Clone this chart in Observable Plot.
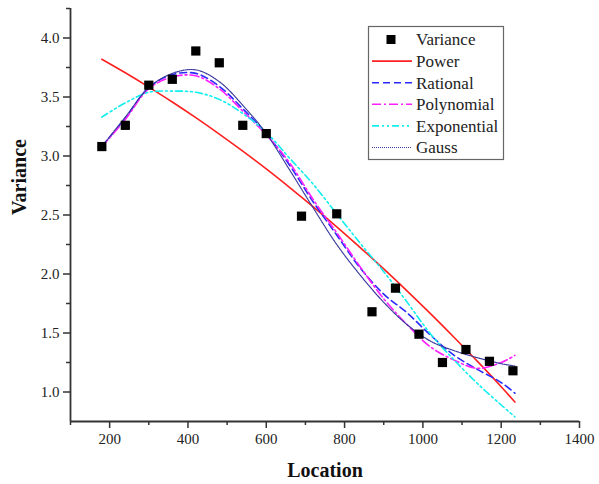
<!DOCTYPE html>
<html>
<head>
<meta charset="utf-8">
<script src="https://cdn.jsdelivr.net/npm/d3@7"></script>
<script src="https://cdn.jsdelivr.net/npm/@observablehq/plot@0.6"></script>
<style>
  html, body { margin: 0; padding: 0; background: #fff; }
  #chart svg { display: block; }
</style>
</head>
<body>
<div id="chart"></div>
<script>
// ---- Data ----
const locations = [180, 240, 300, 360, 420, 480, 540, 600, 690, 780, 870, 930, 990, 1050, 1110, 1170, 1230];
const variance  = [3.08, 3.26, 3.60, 3.65, 3.89, 3.79, 3.26, 3.19, 2.49, 2.51, 1.68, 1.88, 1.49, 1.25, 1.36, 1.26, 1.18];

const fitX = [180, 240, 300, 360, 420, 480, 540, 600, 660, 720, 780, 840, 900, 960, 1020, 1080, 1140, 1200, 1235];
const powerFit       = [3.82, 3.705, 3.584, 3.458, 3.325, 3.186, 3.041, 2.890, 2.732, 2.569, 2.400, 2.224, 2.043, 1.855, 1.662, 1.462, 1.257, 1.045, 0.915];
const rationalFit    = [3.08, 3.32, 3.58, 3.69, 3.70, 3.59, 3.40, 3.19, 2.92, 2.61, 2.33, 2.05, 1.83, 1.67, 1.48, 1.31, 1.19, 1.08, 0.99];
const polynomialFit  = [3.08, 3.31, 3.57, 3.67, 3.68, 3.57, 3.38, 3.18, 2.94, 2.63, 2.35, 2.06, 1.79, 1.57, 1.38, 1.27, 1.20, 1.25, 1.31];
const exponentialFit = [3.33, 3.45, 3.54, 3.55, 3.54, 3.48, 3.36, 3.20, 2.98, 2.76, 2.51, 2.26, 2.02, 1.76, 1.49, 1.27, 1.07, 0.89, 0.79];
const gaussFit       = [3.08, 3.33, 3.58, 3.70, 3.73, 3.63, 3.43, 3.19, 2.88, 2.56, 2.25, 1.99, 1.76, 1.57, 1.43, 1.35, 1.29, 1.24, 1.22];

const seriesNames = ["Power", "Rational", "Polynomial", "Exponential", "Gauss"];
const seriesValues = [powerFit, rationalFit, polynomialFit, exponentialFit, gaussFit];

const xMajorTicks = [200, 400, 600, 800, 1000, 1200, 1400];
const xMinorTicks = [100, 300, 500, 700, 900, 1100, 1300];
const yMajorTicks = [1.0, 1.5, 2.0, 2.5, 3.0, 3.5, 4.0];
const yMinorTicks = [1.25, 1.75, 2.25, 2.75, 3.25, 3.75, 4.25];
const xDomain = [100, 1400];
const yDomain = [0.75, 4.25];

// ---- Styles ----
const styles = {
  Power:       {stroke: "#ff2020", dash: null,            width: 1.6},
  Rational:    {stroke: "#2a2aff", dash: "7,4",           width: 1.6},
  Polynomial:  {stroke: "#ff20ff", dash: "9,3,2,3",       width: 1.6},
  Exponential: {stroke: "#10eeee", dash: "7,3,2,3,2,3",   width: 1.6},
  Gauss:       {stroke: "#3a3a9e", dash: "1,1",           width: 1.2}
};
const serif = "'Liberation Serif', 'Times New Roman', serif";

const points = locations.map((x, i) => ({x, y: variance[i]}));
const fitRows = seriesNames.flatMap((name, i) => fitX.map((x, j) => ({series: name, x, y: seriesValues[i][j]})));

const lineMarks = seriesNames.map(name => Plot.line(fitRows.filter(d => d.series === name), {
  x: "x", y: "y",
  stroke: styles[name].stroke,
  strokeWidth: styles[name].width,
  strokeDasharray: styles[name].dash,
  curve: "catmull-rom"
}));

const axisColor = "#333";

const chart = Plot.plot({
  width: 599,
  height: 484,
  marginLeft: 70,
  marginRight: 20,
  marginTop: 8,
  marginBottom: 63,
  style: {fontFamily: serif, fontSize: "15px", color: "#222", background: "#fff"},
  x: {domain: xDomain},
  y: {domain: yDomain},
  marks: [
    ...lineMarks,
    Plot.dot(points, {x: "x", y: "y", symbol: "square", r: 5.2, fill: "#000", stroke: "none"}),
    Plot.axisX({ticks: xMajorTicks, tickSize: 7, tickPadding: 5, tickFormat: d => String(d), label: null, stroke: axisColor, strokeWidth: 1.5, fontSize: 15}),
    Plot.axisX({ticks: xMinorTicks, tickSize: 4, tickFormat: () => "", label: null, stroke: axisColor, strokeWidth: 1.5}),
    Plot.axisY({ticks: yMajorTicks, tickSize: 7, tickPadding: 4, tickFormat: d3.format(".1f"), label: null, stroke: axisColor, strokeWidth: 1.5, fontSize: 15}),
    Plot.axisY({ticks: yMinorTicks, tickSize: 4, tickFormat: () => "", label: null, stroke: axisColor, strokeWidth: 1.5}),
    Plot.ruleX([xDomain[0]], {stroke: axisColor, strokeWidth: 1.8}),
    Plot.ruleY([yDomain[0]], {stroke: axisColor, strokeWidth: 1.8}),
    Plot.text(["Location"], {frameAnchor: "bottom", dy: 49, lineAnchor: "middle", fontWeight: "bold", fontSize: 20, fill: "#111", fontFamily: serif}),
    Plot.text(["Variance"], {frameAnchor: "left", dx: -51, rotate: -90, lineAnchor: "middle", fontWeight: "bold", fontSize: 20, fill: "#111", fontFamily: serif})
  ]
});

document.getElementById("chart").appendChild(chart);

// ---- Legend (inside the plot, top right) ----
const svg = d3.select(chart);
const legend = svg.append("g")
  .attr("font-family", serif)
  .attr("font-size", 17)
  .attr("text-anchor", "start");
legend.append("rect")
  .attr("x", 368.5).attr("y", 26.5).attr("width", 135).attr("height", 133)
  .attr("fill", "#fff").attr("stroke", "#666").attr("stroke-width", 1.2);
const rowY = i => 39.5 + i * 21.6;
legend.append("rect")
  .attr("x", 391 - 4.5).attr("y", rowY(0) - 4.5).attr("width", 9).attr("height", 9).attr("fill", "#000");
legend.append("text").attr("x", 416).attr("y", rowY(0)).attr("dy", "0.35em")
  .attr("text-anchor", "start").attr("fill", "#222").text("Variance");
seriesNames.forEach((name, i) => {
  const y = rowY(i + 1);
  const s = styles[name];
  legend.append("line")
    .attr("x1", 372).attr("x2", 412).attr("y1", y).attr("y2", y)
    .attr("stroke", s.stroke).attr("stroke-width", s.width)
    .attr("stroke-dasharray", s.dash);
  legend.append("text").attr("x", 416).attr("y", y).attr("dy", "0.35em")
    .attr("text-anchor", "start").attr("fill", "#222").text(name);
});
</script>
</body>
</html>
